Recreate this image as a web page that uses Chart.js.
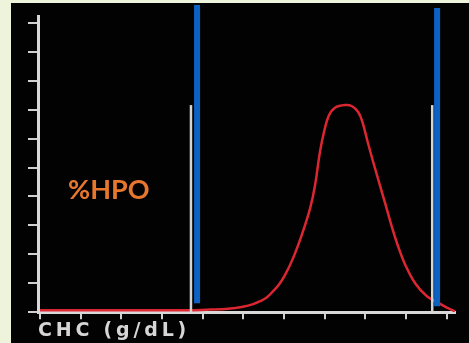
<!DOCTYPE html>
<html><head><meta charset="utf-8">
<script src="https://cdn.jsdelivr.net/npm/chart.js@4/dist/chart.umd.min.js"></script>
<style>
html,body{margin:0;padding:0;width:469px;height:343px;overflow:hidden;background:#eef4dc;}
#box{position:absolute;left:11px;top:3px;width:458px;height:340px;background:#020202;}
canvas{display:block}
</style></head><body>
<div id="box"><canvas id="c" width="458" height="340"></canvas></div>
<script>
// CHC histogram (red curve)
const curveX = [0.00,3.69,4.18,4.62,4.99,5.24,5.41,5.58,5.73,5.88,6.02,6.22,6.44,6.64,6.76,6.88,6.98,7.10,7.25,7.50,7.67,7.82,7.92,8.06,8.21,8.36,8.51,8.65,8.80,8.97,9.22,9.51,9.76,10.00,10.20];
const curveY = [0.07,0.07,0.09,0.12,0.19,0.28,0.38,0.52,0.73,0.97,1.28,1.87,2.70,3.60,4.39,5.54,6.23,6.80,7.07,7.16,7.12,6.92,6.60,5.85,5.09,4.36,3.63,2.94,2.28,1.66,1.00,0.55,0.35,0.16,0.03];
// gray threshold lines
const grayX = [3.71, 9.64];
const grayTop = [7.16, 7.16];
// blue gate lines
const blueX = [3.86, 9.76];
const blueBottom = [0.31, 0.21];
const blueTop = [10.62, 10.52];
// axis tick values (no numeric labels shown)
const xTicks = [0,1,2,3,4,5,6,7,8,9,10];
const yTicks = [0,1,2,3,4,5,6,7,8,9,10];
const xTitle = 'CHC (g/dL)';
const noteText = '%HPO';
const notePos = {x: 0.69, y: 3.91};

const curve = curveX.map((x,i)=>({x, y: curveY[i]}));
const datasets = [];
blueX.forEach((x,i)=>datasets.push({type:'line', data:[{x,y:blueBottom[i]},{x,y:blueTop[i]}], borderColor:'#0a63c2', borderWidth:6, pointRadius:0, clip:false, order:0}));
grayX.forEach((x,i)=>datasets.push({type:'line', data:[{x,y:0},{x,y:grayTop[i]}], borderColor:'#d4d4d4', borderWidth:2.5, pointRadius:0, clip:false, order:1}));
datasets.push({type:'line', data:curve, borderColor:'#dc2632', borderWidth:2.5, pointRadius:0, tension:0.35, order:2});

const txtPlugin = {
  id:'txt',
  beforeDraw(chart){ chart.ctx.letterSpacing = '3.8px'; },
  afterDraw(chart){
    const ctx = chart.ctx;
    ctx.save();
    ctx.letterSpacing = '0px';
    ctx.font = 'bold 27px Lato';
    ctx.fillStyle = '#e8772e';
    ctx.textAlign = 'left';
    ctx.textBaseline = 'alphabetic';
    ctx.fillText(noteText, chart.scales.x.getPixelForValue(notePos.x), chart.scales.y.getPixelForValue(notePos.y));
    ctx.restore();
  }
};

new Chart(document.getElementById('c'), {
  type:'line',
  data:{datasets},
  plugins:[txtPlugin],
  options:{
    responsive:false, animation:false, events:[],
    layout:{padding:{left:17, top:13, right:14, bottom:1}},
    plugins:{legend:{display:false}, tooltip:{enabled:false}},
    scales:{
      x:{type:'linear', min:-0.05, max:10.2,
         afterBuildTicks:s=>{s.ticks = xTicks.map(v=>({value:v}));},
         ticks:{display:false},
         grid:{drawOnChartArea:false, drawTicks:true, tickLength:7, color:'#d0d0d0', lineWidth:2},
         border:{display:true, color:'#d8d8d8', width:3},
         title:{display:true, text:xTitle, align:'start', color:'#d6d6d6', font:{family:'DejaVu Sans', size:19, weight:'bold', lineHeight:1.2}, padding:{top:0,bottom:0}}
      },
      y:{type:'linear', min:0, max:10.24,
         afterBuildTicks:s=>{s.ticks = yTicks.map(v=>({value:v}));},
         ticks:{display:false},
         grid:{drawOnChartArea:false, drawTicks:true, tickLength:10, color:'#d0d0d0', lineWidth:2},
         border:{display:true, color:'#d8d8d8', width:3}
      }
    }
  }
});
</script>
</body></html>
